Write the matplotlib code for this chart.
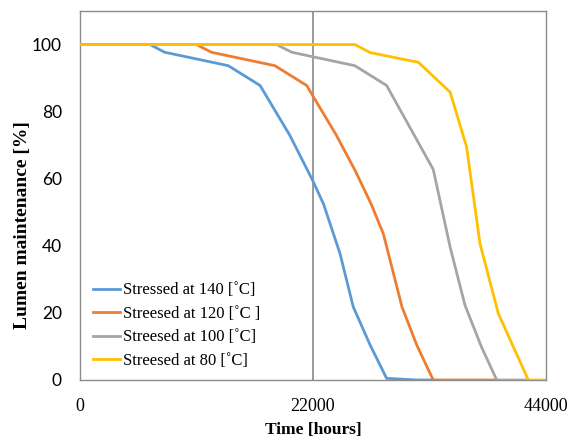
import matplotlib
matplotlib.use("Agg")
import matplotlib.pyplot as plt

# ── Data ──────────────────────────────────────────────────────
hours_140 = [0, 6600, 8000, 14000, 17000, 19800, 22000, 23000, 24550, 25800, 27400, 28950, 31800, 33400]
lumen_140 = [100, 100, 97.7, 93.7, 87.8, 73.0, 59.3, 52.4, 37.7, 21.8, 10.4, 0.5, 0, 0]

hours_120 = [0, 11000, 12400, 18400, 21400, 24200, 26000, 27500, 28650, 30400, 31800, 33350, 39400]
lumen_120 = [100, 100, 97.7, 93.7, 87.8, 73.0, 62.3, 52.4, 43.5, 21.8, 10.4, 0, 0]

hours_100 = [0, 18550, 20000, 25950, 28950, 33350, 34950, 36350, 37900, 39350, 42300]
lumen_100 = [100, 100, 97.7, 93.7, 87.8, 62.8, 39.6, 22.3, 9.9, 0, 0]

hours_80 = [0, 25950, 27400, 31950, 34950, 36500, 37770, 39500, 42330, 44000]
lumen_80 = [100, 100, 97.6, 94.7, 85.8, 69.5, 40.6, 19.8, 0, 0]

labels = [
    "Stressed at 140 [˚C]",
    "Streesed at 120 [˚C ]",
    "Streesed at 100 [˚C]",
    "Streesed at 80 [˚C]",
]
colors = ["#5B9BD5", "#ED7D31", "#A5A5A5", "#FFC000"]

x_ticks = [0, 22000, 44000]
y_ticks = [0, 20, 40, 60, 80, 100]

# ── Plot ──────────────────────────────────────────────────────
fig = plt.figure(figsize=(5.78, 4.41), dpi=100)
ax = fig.add_axes([80 / 578, 61 / 441, 466 / 578, 369 / 441])

series = [(hours_140, lumen_140), (hours_120, lumen_120),
          (hours_100, lumen_100), (hours_80, lumen_80)]
for (xs, ys), lab, col in zip(series, labels, colors):
    ax.plot(xs, ys, color=col, linewidth=2.0, label=lab, zorder=3)

ax.axvline(22000, color="#7f7f7f", linewidth=1.1, zorder=2)

ax.set_xlim(0, 44000)
ax.set_ylim(0, 110)
ax.set_xticks(x_ticks)
ax.set_yticks(y_ticks)
ax.tick_params(length=0)
ax.tick_params(axis="y", pad=13)
ax.tick_params(axis="x", pad=13)

for lab in ax.get_yticklabels():
    lab.set_fontfamily("Lato")
    lab.set_fontsize(12.5)
for lab in ax.get_xticklabels():
    lab.set_fontfamily("Liberation Serif")
    lab.set_fontsize(13)

for sp in ax.spines.values():
    sp.set_color("#8c8c8c")
    sp.set_linewidth(1.0)

ax.set_xlabel("Time [hours]", family="Liberation Serif",
              fontweight="bold", fontsize=12.5)
ax.set_ylabel("Lumen maintenance [%]", family="Liberation Serif",
              fontweight="bold", fontsize=14)
ax.xaxis.set_label_coords(0.5, -0.115)
ax.yaxis.set_label_coords(-0.105, 0.42)

ax.legend(loc="lower left", bbox_to_anchor=(0.028, 0.03),
          frameon=False, borderaxespad=0, borderpad=0,
          prop={"family": "Liberation Serif", "size": 12},
          handlelength=1.6, handletextpad=0.2, labelspacing=0.45)

fig.savefig("out.png", dpi=100)
